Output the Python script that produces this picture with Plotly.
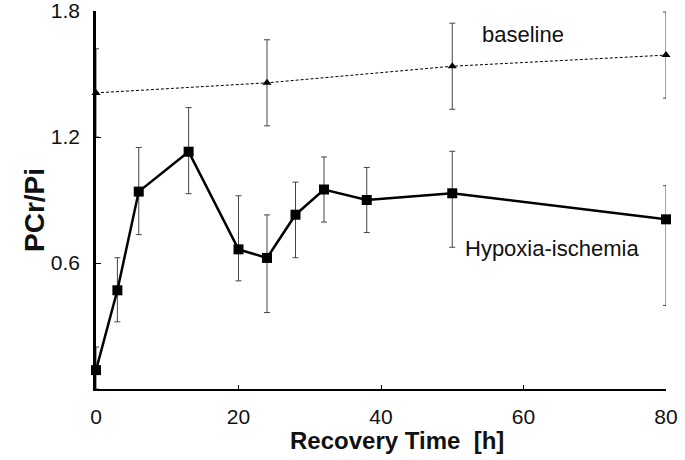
import plotly.graph_objects as go

# hypoxia-ischemia group
hi_time = [0, 3, 6, 13, 20, 24, 28, 32, 38, 50, 80]
hi_ratio = [0.09, 0.47, 0.94, 1.13, 0.665, 0.624, 0.83, 0.95, 0.90, 0.932, 0.808]
hi_err_up = [0.11, 0.155, 0.21, 0.21, 0.255, 0.205, 0.155, 0.155, 0.155, 0.20, 0.16]
hi_err_down = [0.09, 0.15, 0.205, 0.20, 0.15, 0.26, 0.205, 0.155, 0.155, 0.257, 0.41]

# baseline group
bl_time = [0, 24, 50, 80]
bl_ratio = [1.41, 1.458, 1.537, 1.59]
bl_err = [0.21, 0.205, 0.205, 0.205]

fig = go.Figure()

fig.add_trace(go.Scatter(
    x=bl_time, y=bl_ratio, mode="lines+markers",
    line=dict(color="black", width=1, dash="3px,2px"),
    marker=dict(symbol="triangle-up", size=8, color="black"),
    error_y=dict(type="data", array=bl_err, color="#444", thickness=1, width=3),
    cliponaxis=False, showlegend=False))

fig.add_trace(go.Scatter(
    x=hi_time, y=hi_ratio, mode="lines+markers",
    line=dict(color="black", width=2.5),
    marker=dict(symbol="square", size=10, color="black"),
    error_y=dict(type="data", array=hi_err_up, arrayminus=hi_err_down,
                 color="#444", thickness=1, width=3),
    cliponaxis=False, showlegend=False))

fig.update_layout(
    width=685, height=460,
    margin=dict(l=96, r=19, t=11, b=71, autoexpand=False),
    plot_bgcolor="white", paper_bgcolor="white",
    font=dict(family="Liberation Sans, Arial, sans-serif", size=21, color="#111"),
    annotations=[
        dict(x=53.9, y=1.69, xref="x", yref="y", text="baseline",
             showarrow=False, xanchor="left", font=dict(size=22)),
        dict(x=51.5, y=0.667, xref="x", yref="y", text="Hypoxia-ischemia",
             showarrow=False, xanchor="left", font=dict(size=22)),
        dict(x=-0.1395, y=0.4735, xref="paper", yref="paper", text="<b>PCr/Pi</b>",
             textangle=-90, showarrow=False, font=dict(size=28)),
        dict(x=0.528, y=-0.135, xref="paper", yref="paper", yanchor="middle",
             text="<b>Recovery Time  [h]</b>", showarrow=False,
             font=dict(size=24)),
    ],
)

fig.update_xaxes(range=[0, 80], tickvals=[0, 20, 40, 60, 80], showgrid=False,
                 zeroline=False, showline=True, linecolor="black", linewidth=2,
                 ticks="inside", ticklen=4, tickcolor="black",
                 ticklabelstandoff=8, ticklabeloverflow="allow", automargin=False)
fig.update_yaxes(range=[0, 1.8], tickvals=[0.6, 1.2, 1.8], showgrid=False,
                 zeroline=False, showline=True, linecolor="black", linewidth=2.5,
                 ticks="inside", ticklen=5, tickcolor="black",
                 ticklabelstandoff=9, ticklabeloverflow="allow", automargin=False)

# drop the page's default body margin so the figure fills the window
fig.write_html("out.html", config={"displayModeBar": False},
               post_script="document.body.style.margin = '0';")
